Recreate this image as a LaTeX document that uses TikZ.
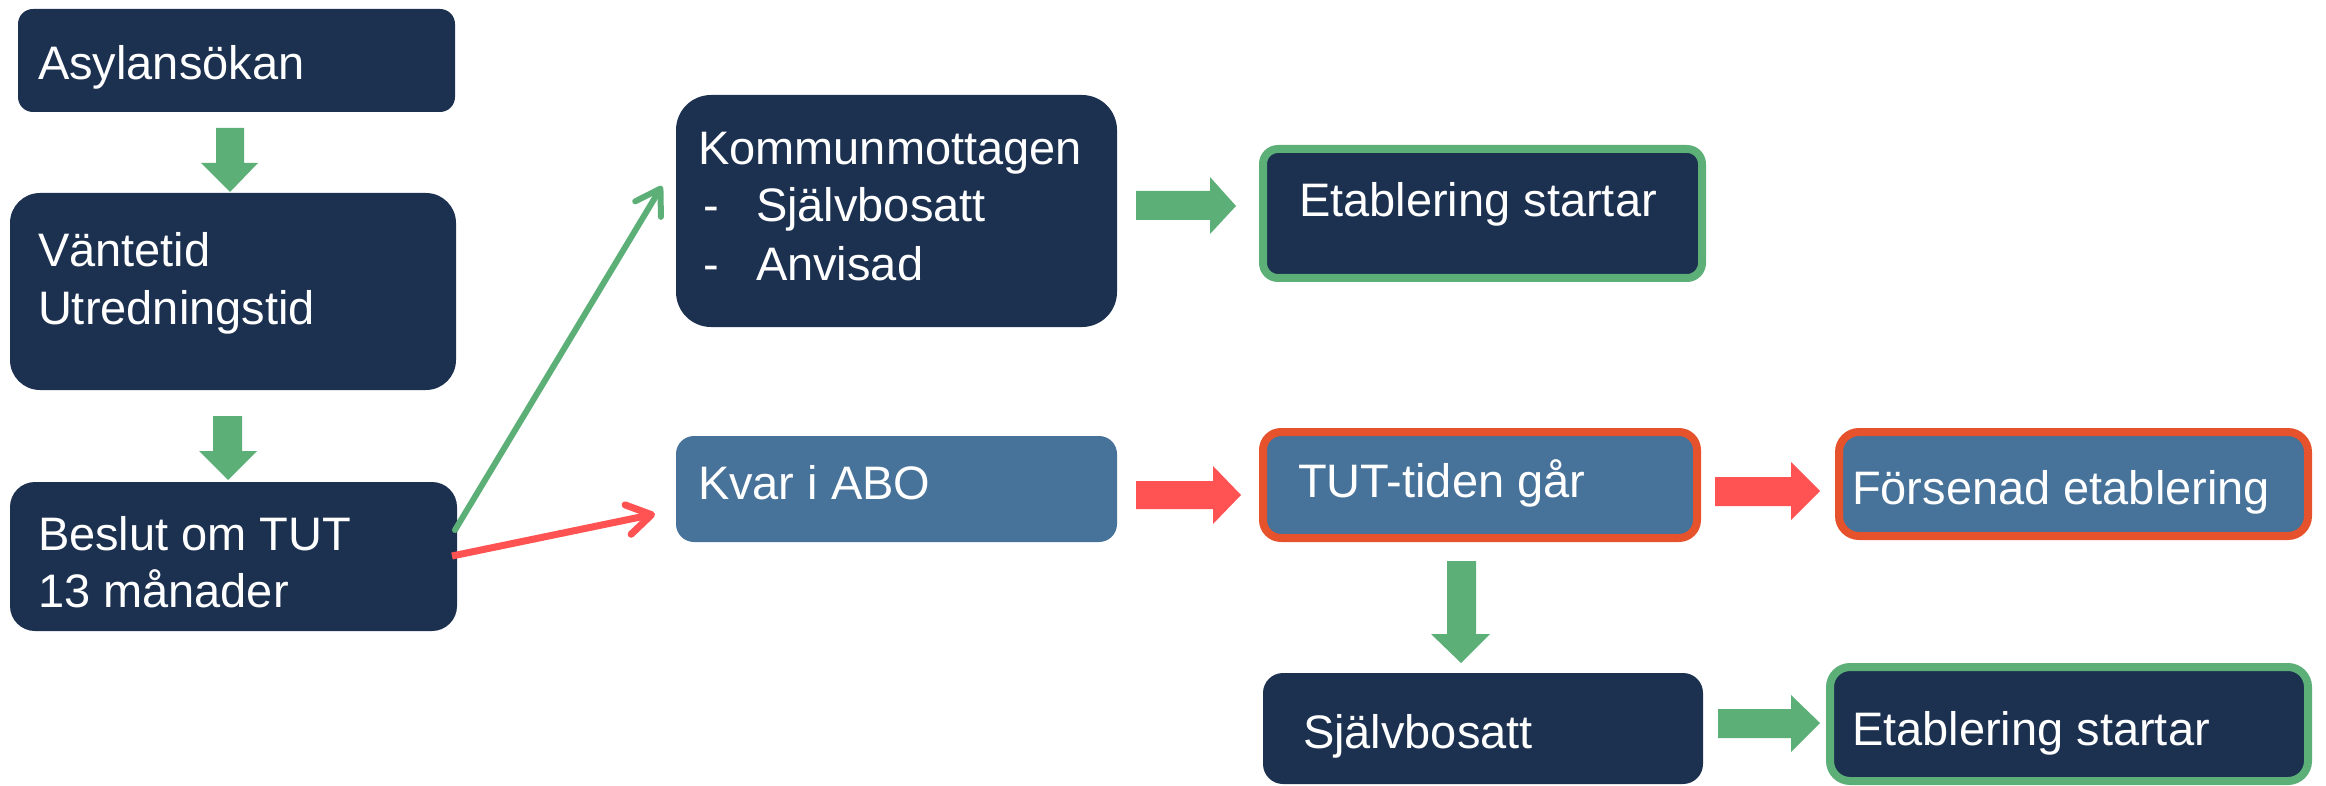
\documentclass[tikz,border=0pt]{standalone}
\usepackage{fontspec}
\setmainfont{Liberation Sans}
\usetikzlibrary{arrows.meta}
\definecolor{navy}{RGB}{28,48,80}
\definecolor{steel}{RGB}{71,114,153}
\definecolor{okgreen}{RGB}{93,175,120}
\definecolor{badred}{RGB}{255,82,82}
\definecolor{edgered}{RGB}{229,82,43}
\begin{document}
\begin{tikzpicture}[x=1pt,y=-1pt,
  boxbase/.style={rectangle, inner sep=0pt, outer sep=0pt},
  navybox/.style={boxbase, fill=navy},
  steelbox/.style={boxbase, fill=steel},
  goodedge/.style={draw=okgreen, line width=8pt},
  badedge/.style={draw=edgered, line width=8pt},
  txt/.style={anchor=base west, inner sep=0pt, outer sep=0pt, text=white, font=\fontsize{47}{57}\selectfont},
  greenline/.style={draw=okgreen, line width=6pt, line cap=round, -{Straight Barb[length=24pt,width=30pt,line cap=round,line join=round]}},
  redline/.style={draw=badred, line width=7pt, -{Straight Barb[length=24pt,width=30pt,line cap=round,line join=round]}},
  goodfill/.style={fill=okgreen},
  badfill/.style={fill=badred}
]
\useasboundingbox (0,0) rectangle (2326,786);

% boxes
\node[navybox, minimum width=437pt, minimum height=103pt, rounded corners=15pt] (asyl) at (236.5,60.5) {};
\node[navybox, minimum width=446pt, minimum height=197pt, rounded corners=30pt] (vante) at (233,291.5) {};
\node[navybox, minimum width=447pt, minimum height=149pt, rounded corners=25pt] (beslut) at (233.5,556.5) {};
\node[navybox, minimum width=441pt, minimum height=232pt, rounded corners=35pt] (kommun) at (896.5,211) {};
\node[navybox, goodedge, minimum width=439pt, minimum height=129pt, rounded corners=15pt] (etab1) at (1482.5,213.5) {};
\node[steelbox, minimum width=441pt, minimum height=106pt, rounded corners=18pt] (kvar) at (896.5,489) {};
\node[steelbox, badedge, minimum width=434pt, minimum height=106pt, rounded corners=18pt] (tut) at (1480,485) {};
\node[steelbox, badedge, minimum width=469pt, minimum height=104pt, rounded corners=20pt] (forsen) at (2073.5,484) {};
\node[navybox, minimum width=440pt, minimum height=111pt, rounded corners=20pt] (sjalv) at (1483,728.5) {};
\node[navybox, goodedge, minimum width=478pt, minimum height=114pt, rounded corners=20pt] (etab2) at (2069,724) {};

% texts
\node[txt] (t1) at (38,80) {Asylansökan};
\node[txt] (t2a) at (38,267) {Väntetid};
\node[txt] (t2b) at (38,324) {Utredningstid};
\node[txt] (t3a) at (38,550) {Beslut om TUT};
\node[txt] (t3b) at (38,607) {13 månader};
\node[txt] (t4a) at (698,165) {Kommunmottagen};
\node[txt] (t4b) at (703,222) {-};
\node[txt] (t4c) at (756,222) {Självbosatt};
\node[txt] (t4d) at (703,280) {-};
\node[txt] (t4e) at (756,280) {Anvisad};
\node[txt] (t5) at (1299,217) {Etablering startar};
\node[txt] (t6) at (698,499) {Kvar i ABO};
\node[txt] (t7) at (1298,497) {TUT-tiden går};
\node[txt] (t8) at (1852,504) {Försenad etablering};
\node[txt] (t9) at (1303,748) {Självbosatt};
\node[txt] (t10) at (1852,745) {Etablering startar};

% block arrows
\fill[goodfill] (216,128) -- (244,128) -- (244,163) -- (258,163) -- (230,192) -- (201,163) -- (216,163) -- cycle;
\fill[goodfill] (213,416) -- (242,416) -- (242,451) -- (257,451) -- (228,480) -- (199,451) -- (213,451) -- cycle;
\fill[goodfill] (1136,191) -- (1210,191) -- (1210,177) -- (1236,206) -- (1210,234) -- (1210,220) -- (1136,220) -- cycle;
\fill[badfill] (1136,481) -- (1213,481) -- (1213,466) -- (1241,495) -- (1213,524) -- (1213,509) -- (1136,509) -- cycle;
\fill[goodfill] (1447,561) -- (1476,561) -- (1476,634) -- (1490,634) -- (1461,663) -- (1431,634) -- (1447,634) -- cycle;
\fill[badfill] (1715,477) -- (1791,477) -- (1791,462) -- (1820,491) -- (1791,520) -- (1791,506) -- (1715,506) -- cycle;
\fill[goodfill] (1718,709) -- (1791,709) -- (1791,695) -- (1820,723) -- (1791,752) -- (1791,738) -- (1718,738) -- cycle;

% line connectors
\coordinate (gs) at (455,530);
\coordinate (ge) at (662,186);
\coordinate (rs) at (452,556);
\coordinate (re) at (655,514);
\draw[greenline] (gs) -- (ge);
\draw[redline] (rs) -- (re);
\end{tikzpicture}
\end{document}
